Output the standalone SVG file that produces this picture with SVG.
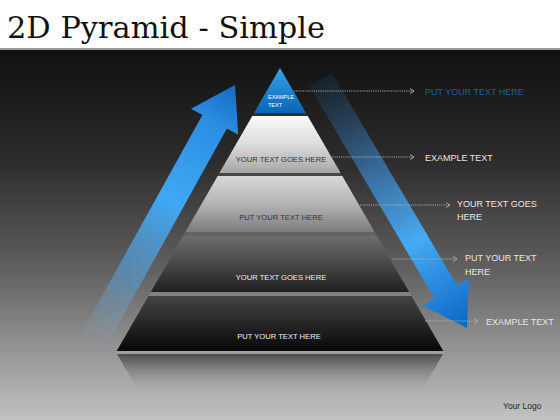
<svg xmlns="http://www.w3.org/2000/svg" width="560" height="420" viewBox="0 0 560 420">
<defs>
<linearGradient id="bg" x1="0" y1="50" x2="0" y2="420" gradientUnits="userSpaceOnUse">
<stop offset="0" stop-color="#101010"/><stop offset="0.3" stop-color="#2c2c2c"/><stop offset="0.6" stop-color="#626262"/><stop offset="1" stop-color="#c2c2c2"/>
</linearGradient>
<linearGradient id="back" x1="0" y1="68" x2="0" y2="353" gradientUnits="userSpaceOnUse">
<stop offset="0" stop-color="#2a2a2a"/><stop offset="1" stop-color="#a8a8a8"/>
</linearGradient>
<linearGradient id="gTop" x1="0" y1="0" x2="0" y2="1"><stop offset="0" stop-color="#35a3ea"/><stop offset="1" stop-color="#0a64b6"/></linearGradient>
<linearGradient id="g1" x1="0" y1="0" x2="0" y2="1"><stop offset="0" stop-color="#fafafa"/><stop offset="0.5" stop-color="#dcdcdc"/><stop offset="1" stop-color="#a6a6a6"/></linearGradient>
<linearGradient id="g2" x1="0" y1="0" x2="0" y2="1"><stop offset="0" stop-color="#d8d8d8"/><stop offset="0.5" stop-color="#b4b4b4"/><stop offset="1" stop-color="#7c7c7c"/></linearGradient>
<linearGradient id="g3" x1="0" y1="0" x2="0" y2="1"><stop offset="0" stop-color="#6c6c6c"/><stop offset="0.5" stop-color="#484848"/><stop offset="1" stop-color="#1e1e1e"/></linearGradient>
<linearGradient id="g4" x1="0" y1="0" x2="0" y2="1"><stop offset="0" stop-color="#444"/><stop offset="0.5" stop-color="#262626"/><stop offset="1" stop-color="#080808"/></linearGradient>
<linearGradient id="gRef" x1="0" y1="0" x2="0" y2="1"><stop offset="0" stop-color="#3a3a3a" stop-opacity="0.8"/><stop offset="1" stop-color="#9a9a9a" stop-opacity="0"/></linearGradient>
<linearGradient id="gUp" x1="-297" y1="0" x2="0" y2="0" gradientUnits="userSpaceOnUse">
<stop offset="0" stop-color="#8ab4d8" stop-opacity="0"/><stop offset="0.25" stop-color="#5aa2dc" stop-opacity="0.55"/><stop offset="0.55" stop-color="#40a8f4"/><stop offset="0.85" stop-color="#2a8ee2"/><stop offset="1" stop-color="#1868c4"/>
</linearGradient>
<linearGradient id="gDown" x1="-288" y1="0" x2="0" y2="0" gradientUnits="userSpaceOnUse">
<stop offset="0" stop-color="#1e4a70" stop-opacity="0.2"/><stop offset="0.35" stop-color="#3a80c0" stop-opacity="0.7"/><stop offset="0.65" stop-color="#46aaf4"/><stop offset="1" stop-color="#0a66c6"/>
</linearGradient>
<marker id="ah" markerWidth="8" markerHeight="8" refX="6" refY="4" orient="auto" markerUnits="userSpaceOnUse">
<path d="M2,1.5 L6,4 L2,6.5" fill="none" stroke="#b0b0b0" stroke-width="0.9"/>
</marker>
<style>
.lbl{font-family:"Liberation Sans","Open Sans",Arial,sans-serif;font-size:7.6px;text-anchor:middle}
.side{font-family:"Liberation Sans","Open Sans",Arial,sans-serif;font-size:9px;fill:#e6e6e6}
.conn{stroke:#b4b4b4;stroke-width:0.9;stroke-dasharray:1.2 1;fill:none;marker-end:url(#ah)}
</style>
</defs>
<rect x="0" y="0" width="560" height="420" fill="#fff"/>
<rect x="0" y="50" width="560" height="370" fill="url(#bg)"/>
<rect x="0" y="48" width="560" height="2" fill="#9a9a9a"/>
<text x="7" y="38" font-family="'DejaVu Serif','Liberation Serif',serif" font-size="30" fill="#111" textLength="318" lengthAdjust="spacingAndGlyphs">2D Pyramid - Simple</text>

<g id="arrow-up"><path transform="translate(235,85) rotate(-61)" d="M0,0 L-42,-27 L-42,-14 L-297,-14 L-297,14 L-42,14 L-42,27 Z" fill="url(#gUp)"/></g>
<g id="arrow-down"><path transform="translate(467,328) rotate(59.5)" d="M0,0 L-42,-27 L-42,-13 L-288,-13 L-288,13 L-42,13 L-42,27 Z" fill="url(#gDown)"/></g>

<g id="pyramid-back">
<polygon points="280,68 444.4,353 115.6,353" fill="url(#back)" opacity="0.55"/>
<polygon points="117,354 443,354 421,392 139,392" fill="url(#gRef)"/>
<rect x="117" y="351.5" width="326" height="2" fill="#a0a0a0"/>
</g>

<g id="tier-top">
<polygon points="280,68 306,113 254,113" fill="url(#gTop)"/>
<text x="268" y="99" font-family="'Liberation Sans',Arial,sans-serif" font-size="5.5" fill="#fff">EXAMPLE</text>
<text x="268" y="107" font-family="'Liberation Sans',Arial,sans-serif" font-size="5.5" fill="#fff">TEXT</text>
</g>
<g id="tier-1">
<polygon points="252.3,116 307.7,116 340.6,173 219.4,173" fill="url(#g1)"/>
<text class="lbl" x="281" y="162" fill="#333">YOUR TEXT GOES HERE</text>
</g>
<g id="tier-2">
<polygon points="217.7,176 342.3,176 374.6,232 185.4,232" fill="url(#g2)"/>
<text class="lbl" x="281" y="220" fill="#333">PUT YOUR TEXT HERE</text>
</g>
<g id="tier-3">
<polygon points="183.1,236 376.9,236 409.2,292 150.8,292" fill="url(#g3)"/>
<text class="lbl" x="281" y="280" fill="#f0f0f0">YOUR TEXT GOES HERE</text>
</g>
<g id="tier-4">
<polygon points="148.4,296 411.6,296 443.3,351 116.7,351" fill="url(#g4)"/>
<text class="lbl" x="279" y="339" fill="#f0f0f0">PUT YOUR TEXT HERE</text>
</g>

<g id="connectors">
<line class="conn" x1="294" y1="91" x2="414" y2="91"/>
<line class="conn" x1="330" y1="157" x2="414" y2="157"/>
<line class="conn" x1="360" y1="205" x2="450" y2="205"/>
<line class="conn" x1="392" y1="259" x2="457" y2="259"/>
<line class="conn" x1="425" y1="321" x2="478" y2="321"/>
</g>

<g id="label-1"><text class="side" x="425" y="94.5" style="fill:#1d5f9e">PUT YOUR TEXT HERE</text></g>
<g id="label-2"><text class="side" x="425" y="160.5">EXAMPLE TEXT</text></g>
<g id="label-3"><text class="side" x="457" y="206.5">YOUR TEXT GOES</text><text class="side" x="457" y="220">HERE</text></g>
<g id="label-4"><text class="side" x="465" y="260.5">PUT YOUR TEXT</text><text class="side" x="465" y="274.5">HERE</text></g>
<g id="label-5"><text class="side" x="486" y="324.5">EXAMPLE TEXT</text></g>

<text x="503" y="409" font-family="'Liberation Sans',Arial,sans-serif" font-size="8.5" fill="#222">Your Logo</text>
</svg>
